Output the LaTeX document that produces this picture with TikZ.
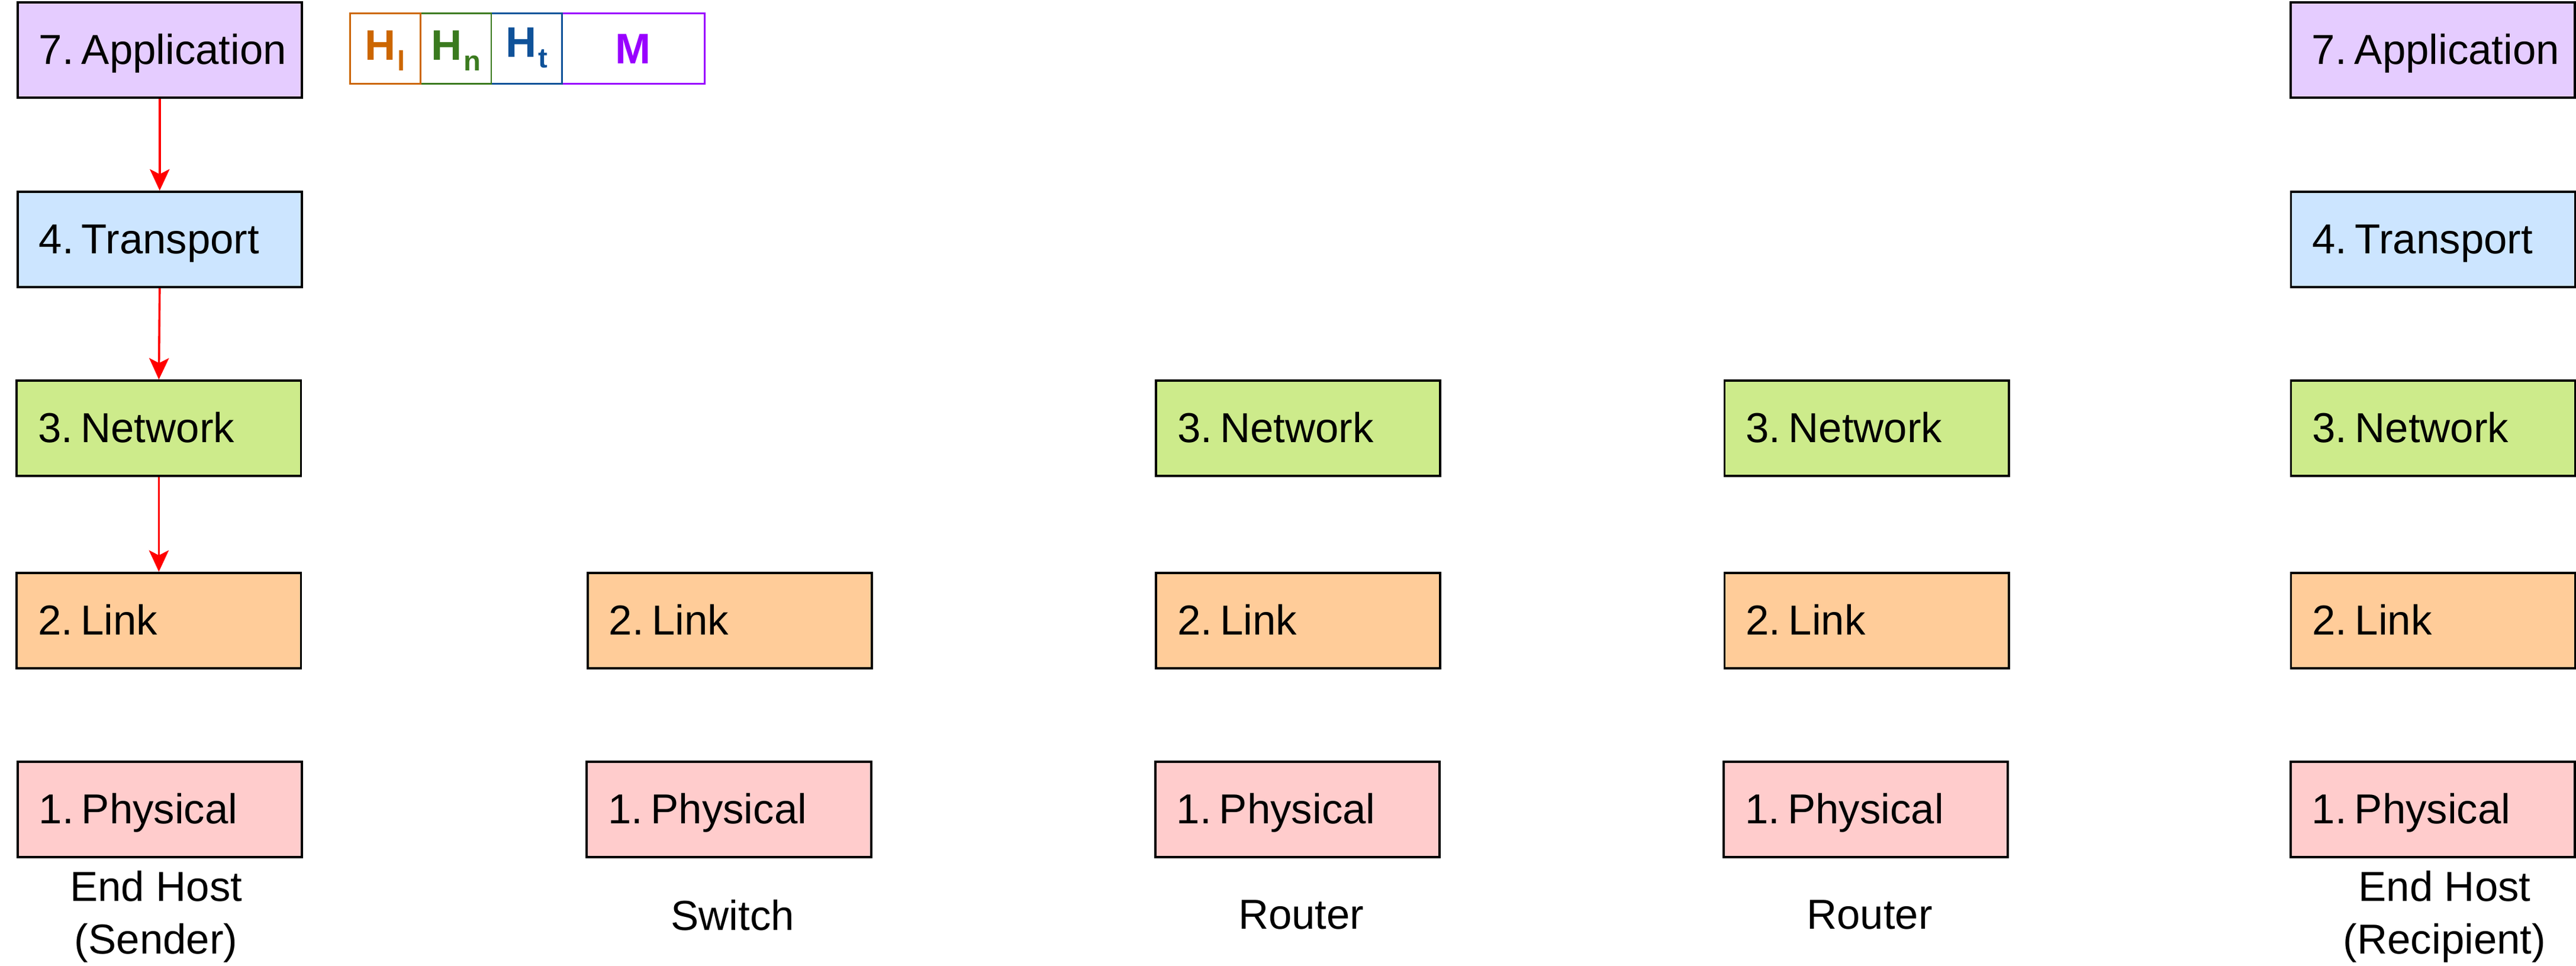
\documentclass[tikz,border=0pt]{standalone}
\usepackage{fontspec}
\setmainfont{Liberation Sans}
\usetikzlibrary{arrows.meta}
\definecolor{appc}{HTML}{E5CCFF}
\definecolor{trc}{HTML}{CCE5FF}
\definecolor{netc}{HTML}{CDEB8B}
\definecolor{linkc}{HTML}{FFCC99}
\definecolor{phyc}{HTML}{FFCCCC}
\definecolor{hlc}{HTML}{CC6600}
\definecolor{hnc}{HTML}{3A7A1E}
\definecolor{htc}{HTML}{0F5299}
\definecolor{mc}{HTML}{9900FF}
\newcommand{\lyr}[2]{\makebox[26pt][l]{#1}#2}
\newcommand{\hsub}[1]{\kern1pt\raisebox{-6.5pt}{\fontsize{17}{17}\selectfont #1}}
\begin{document}
\begin{tikzpicture}[x=1pt,y=-1pt,
  layer/.style={draw=black, line width=1.4pt, rectangle, minimum width=173pt,
    minimum height=58pt, inner xsep=13pt, inner ysep=0pt, text width=147pt,
    align=left, text height=18.3pt, text depth=1pt,
    font=\fontsize{25.5}{30}\selectfont, anchor=north west},
  app/.style={layer, fill=appc},
  trn/.style={layer, fill=trc},
  net/.style={layer, fill=netc},
  lnk/.style={layer, fill=linkc},
  phy/.style={layer, fill=phyc},
  lab/.style={align=center, inner sep=0pt, font=\fontsize{25.5}{32}\selectfont},
  flow/.style={draw=red, line width=1.3pt, -{Stealth[length=13pt,width=12pt,inset=3pt]}},
  hdr/.style={rectangle, line width=1pt, minimum height=43pt, inner sep=0pt,
    text depth=0pt, font=\bfseries\fontsize{26}{30}\selectfont},
]
\useasboundingbox (0,0) rectangle (1568,588);

% column 1: end host (sender)
\node[app] (app1) at (10,0.7)   {\lyr{7.}{Application}};
\node[trn] (tr1)  at (10,116) {\lyr{4.}{Transport}};
\node[net] (net1) at (9.5,231)  {\lyr{3.}{Network}};
\node[lnk] (lnk1) at (9.5,348)  {\lyr{2.}{Link}};
\node[phy] (phy1) at (10,463) {\lyr{1.}{Physical}};

% column 2: switch
\node[lnk] (lnk2) at (357,348) {\lyr{2.}{Link}};
\node[phy] (phy2) at (356.5,463) {\lyr{1.}{Physical}};

% column 3: router
\node[net] (net3) at (703,231) {\lyr{3.}{Network}};
\node[lnk] (lnk3) at (703,348) {\lyr{2.}{Link}};
\node[phy] (phy3) at (702.5,463) {\lyr{1.}{Physical}};

% column 4: router
\node[net] (net4) at (1049,231) {\lyr{3.}{Network}};
\node[lnk] (lnk4) at (1049,348) {\lyr{2.}{Link}};
\node[phy] (phy4) at (1048.5,463) {\lyr{1.}{Physical}};

% column 5: end host (recipient)
\node[app] (app5) at (1393.5,0.7)   {\lyr{7.}{Application}};
\node[trn] (tr5)  at (1393.8,116) {\lyr{4.}{Transport}};
\node[net] (net5) at (1393.8,231) {\lyr{3.}{Network}};
\node[lnk] (lnk5) at (1393.8,348) {\lyr{2.}{Link}};
\node[phy] (phy5) at (1393.5,463) {\lyr{1.}{Physical}};

% labels
\node[lab] (l1) at (95,558)   {End Host\\(Sender)};
\node[lab] (l2) at (446,557)  {Switch};
\node[lab] (l3) at (792,557)  {Router};
\node[lab] (l4) at (1138,557) {Router};
\node[lab] (l5) at (1488,558) {End Host\\(Recipient)};

% flow arrows
\draw[flow] (app1.south) -- (tr1.north);
\draw[flow] (tr1.south) -- (net1.north);
\draw[flow] (net1.south) -- (lnk1.north);

% packet header
\node[hdr, draw=mc, text=mc, minimum width=87pt, text height=18.6pt] (hm) at (385.5,29.5) {M};
\node[hdr, draw=htc, text=htc, minimum width=43pt, text height=10.4pt] (ht) at (320.5,29.5) {H\hsub{t}};
\node[hdr, draw=hnc, text=hnc, minimum width=43pt, text height=14.2pt] (hn) at (277.5,29.5) {H\hsub{n}};
\node[hdr, draw=hlc, text=hlc, minimum width=43pt, text height=14.2pt] (hl) at (234.5,29.5) {H\hsub{l}};
\end{tikzpicture}
\end{document}
